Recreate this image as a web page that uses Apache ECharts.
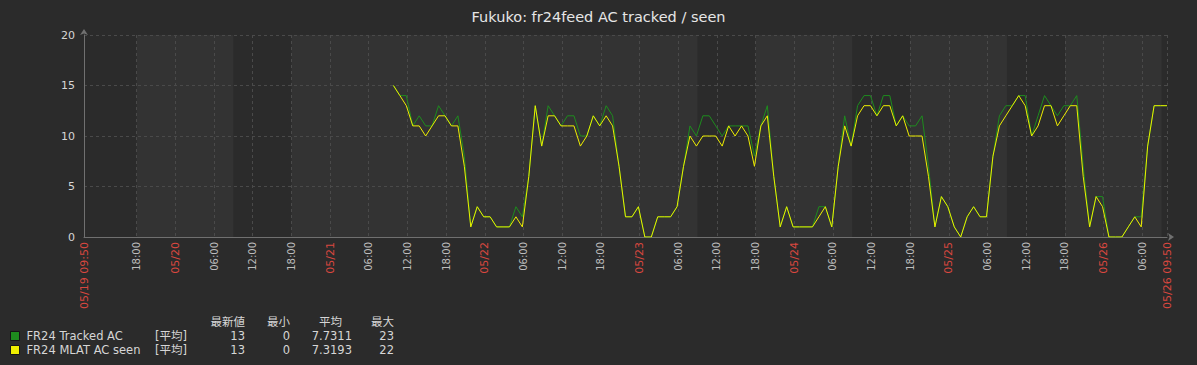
<!DOCTYPE html>
<html><head><meta charset="utf-8">
<script src="https://cdn.jsdelivr.net/npm/echarts@6/dist/echarts.min.js"></script>
<style>html,body{margin:0;padding:0;background:#2b2b2b;}#c{width:1197px;height:365px;}</style>
</head><body><div id="c"></div>
<script>
const chartTitle = 'Fukuko: fr24feed AC tracked / seen';
const seriesNames = ['FR24 Tracked AC', 'FR24 MLAT AC seen'];
const axisStart = '05/19 09:50';
const axisEnd = '05/26 09:50';
const dataStart = '05/21 09:50'; // hourly samples from here
const tracked = [15,14,14,11,12,11,11,13,12,11,12,8,1,3,2,2,1,1,1,3,2,6,13,9,13,12,11,12,12,10,
  10,12,11,13,12,7,2,2,3,0,0,2,2,2,3,7,11,10,12,12,11,10,11,11,11,11,8,11,13,6,
  1,3,1,1,1,1,3,3,1,7,12,9,13,14,14,12,14,14,11,12,11,11,12,7,1,4,3,1,0,2,
  3,2,2,8,12,13,13,14,14,10,12,14,13,12,13,13,14,7,1,4,4,0,0,0,1,2,2,9,13,13,13];
const seen = [15,14,13,11,11,10,11,12,12,11,11,7,1,3,2,2,1,1,1,2,1,6,13,9,12,12,11,11,11,9,
  10,12,11,12,11,7,2,2,3,0,0,2,2,2,3,7,10,9,10,10,10,9,11,10,11,10,7,11,12,6,
  1,3,1,1,1,1,2,3,1,7,11,9,12,13,13,12,13,13,11,12,10,10,10,6,1,4,3,1,0,2,
  3,2,2,8,11,12,13,14,13,10,11,13,13,11,12,13,13,6,1,4,3,0,0,0,1,2,1,9,13,13,13];
const tickTimes = ['05/19 09:50','05/19 18:00',
  '05/20 00:00','05/20 06:00','05/20 12:00','05/20 18:00',
  '05/21 00:00','05/21 06:00','05/21 12:00','05/21 18:00',
  '05/22 00:00','05/22 06:00','05/22 12:00','05/22 18:00',
  '05/23 00:00','05/23 06:00','05/23 12:00','05/23 18:00',
  '05/24 00:00','05/24 06:00','05/24 12:00','05/24 18:00',
  '05/25 00:00','05/25 06:00','05/25 12:00','05/25 18:00',
  '05/26 00:00','05/26 06:00','05/26 09:50'];
const nonWorkPeriods = [['05/19 18:00','05/20 09:00'],['05/20 18:00','05/23 09:00'],
  ['05/23 18:00','05/24 09:00'],['05/24 18:00','05/25 09:00'],['05/25 18:00','05/26 09:00']];
const yMin = 0, yMax = 20, yStep = 5;
const legendHeaders = ['最新値', '最小', '平均', '最大'];
const legendFunc = '[平均]';
const legendStats = [['13', '0', '7.7311', '23'], ['13', '0', '7.3193', '22']];

// hours since 05/19 00:00
function toHours(s) {
  const m = s.match(/(\d+)\/(\d+) (\d+):(\d+)/);
  return (+m[2] - 19) * 24 + (+m[3]) + (+m[4]) / 60;
}
const xMin = toHours(axisStart), xMax = toHours(axisEnd);
const t0 = toHours(dataStart);
const tickHours = tickTimes.map(toHours);
const labelByHour = {};
tickTimes.forEach(function (t, i) {
  const hm = t.slice(6);
  let lab;
  if (t === axisStart || t === axisEnd) lab = '{d|' + t + '}';
  else if (hm === '00:00') lab = '{d|' + t.slice(0, 5) + '}';
  else lab = '{t|' + hm + '}';
  labelByHour[tickHours[i].toFixed(3)] = lab;
});

const FONT = 'DejaVu Sans, Noto Sans CJK JP, sans-serif';
const colors = ['#1e8c1e', '#eeee00'];
const textColor = '#d6d6d6';
const LFONT = '11.5px ' + FONT;

const chart = echarts.init(document.getElementById('c'), null, {renderer: 'svg'});

const graphics = [];
const headerRight = [245, 290, 342, 394];
const valueRight = [245, 290, 352, 394];
legendHeaders.forEach(function (h, i) {
  graphics.push({type: 'text', x: headerRight[i], y: 322, style: {text: h, fill: textColor, font: LFONT, align: 'right', textAlign: 'right', verticalAlign: 'middle', textVerticalAlign: 'middle'}});
});
legendStats.forEach(function (row, r) {
  const y = 336 + r * 14;
  graphics.push({type: 'text', x: 155, y: y, style: {text: legendFunc, fill: textColor, font: LFONT, verticalAlign: 'middle', textVerticalAlign: 'middle'}});
  row.forEach(function (v, i) {
    graphics.push({type: 'text', x: valueRight[i], y: y, style: {text: v, fill: textColor, font: LFONT, align: 'right', textAlign: 'right', verticalAlign: 'middle', textVerticalAlign: 'middle'}});
  });
});

chart.setOption({
  backgroundColor: '#2b2b2b',
  animation: false,
  textStyle: {fontFamily: FONT},
  title: {text: chartTitle, left: 'center', top: 5, textStyle: {color: '#e6e6e6', fontSize: 14.5, fontWeight: 'normal', fontFamily: FONT}},
  legend: {
    data: seriesNames, orient: 'vertical', left: 10, top: 329, padding: 0, itemWidth: 9, itemHeight: 9, itemGap: 0,
    icon: 'rect', selectedMode: false,
    itemStyle: {borderColor: '#151515', borderWidth: 1},
    textStyle: {color: textColor, fontSize: 11.5, lineHeight: 14, fontFamily: FONT, padding: [0, 0, 0, 2]}
  },
  grid: {left: 84, right: 30, top: 35, bottom: 128, containLabel: false},
  xAxis: {
    type: 'value', min: xMin, max: xMax,
    axisLine: {show: true, lineStyle: {color: '#707070', width: 1}, symbol: ['none', 'arrow'], symbolSize: [6, 6], symbolOffset: [0, 7]},
    axisTick: {show: false, customValues: tickHours},
    axisLabel: {
      customValues: tickHours, rotate: 90, margin: 5,
      formatter: function (v) { return labelByHour[v.toFixed(3)] || ''; },
      rich: {
        t: {fontSize: 10, color: '#bdbdbd', fontFamily: FONT},
        d: {fontSize: 11, color: '#d9473f', fontFamily: FONT}
      }
    },
    splitLine: {show: true, lineStyle: {color: '#4a4a4a', type: [3, 3], width: 1}}
  },
  yAxis: {
    type: 'value', min: yMin, max: yMax, interval: yStep,
    axisLine: {show: true, lineStyle: {color: '#707070', width: 1}, symbol: ['none', 'arrow'], symbolSize: [6, 6], symbolOffset: [0, 6]},
    axisTick: {show: false},
    axisLabel: {color: textColor, fontSize: 11, margin: 9, fontFamily: FONT},
    splitLine: {show: true, lineStyle: {color: '#4a4a4a', type: [3, 3], width: 1}}
  },
  graphic: graphics,
  series: [
    {
      type: 'custom', z: -1, silent: true,
      data: nonWorkPeriods.map(function (p) { return [toHours(p[0]), toHours(p[1])]; }),
      encode: {x: [0, 1]},
      renderItem: function (params, api) {
        const a = api.coord([api.value(0), 0]);
        const b = api.coord([api.value(1), 0]);
        const cs = params.coordSys;
        return {type: 'rect', shape: {x: a[0], y: cs.y, width: b[0] - a[0], height: cs.height}, style: {fill: '#333333'}};
      }
    },
    {
      name: seriesNames[0], type: 'line', showSymbol: false, symbol: 'none',
      color: colors[0], lineStyle: {width: 1, color: colors[0]},
      data: tracked.map(function (v, i) { return [t0 + i, v]; })
    },
    {
      name: seriesNames[1], type: 'line', showSymbol: false, symbol: 'none',
      color: colors[1], lineStyle: {width: 1, color: colors[1]},
      data: seen.map(function (v, i) { return [t0 + i, v]; })
    }
  ]
});
</script></body></html>
